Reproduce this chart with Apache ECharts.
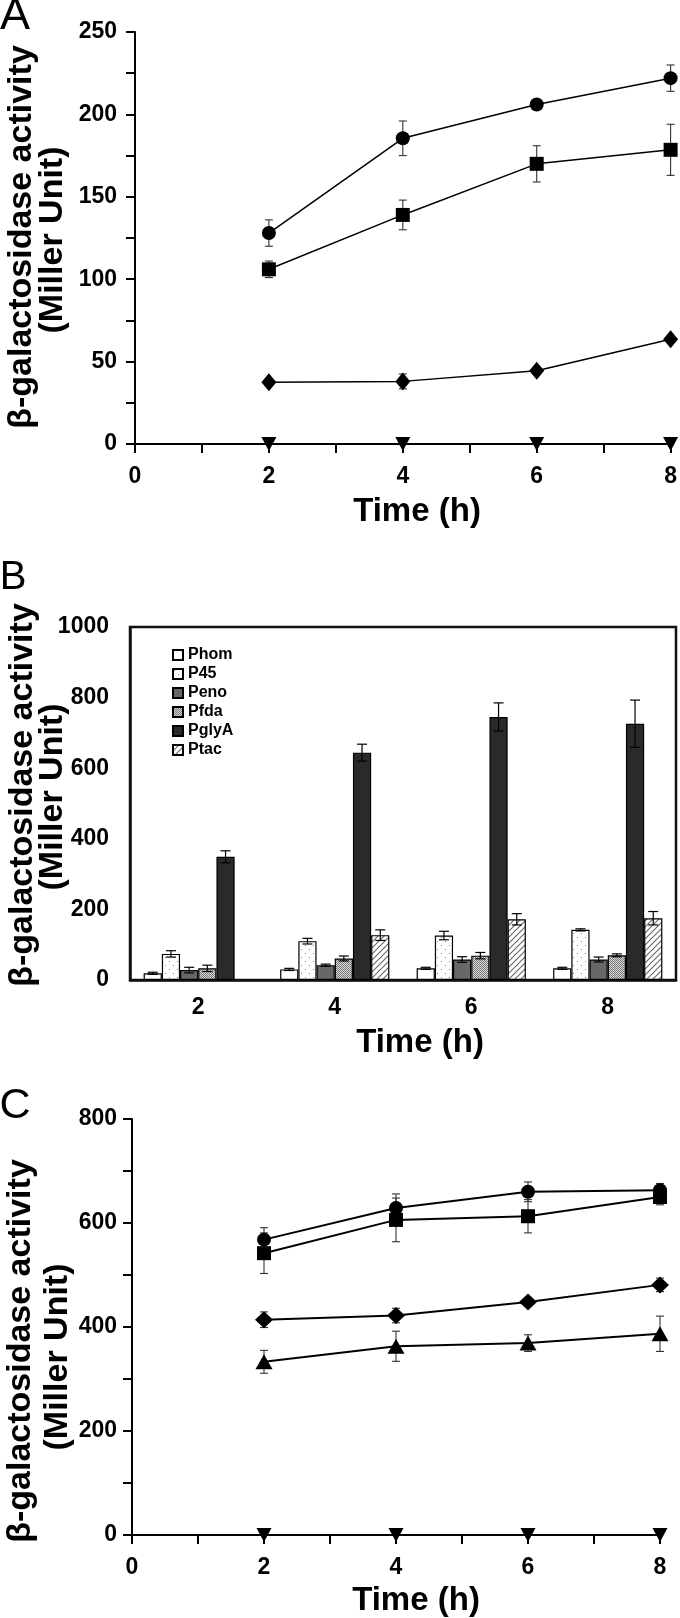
<!DOCTYPE html>
<html>
<head>
<meta charset="utf-8">
<script src="https://cdn.jsdelivr.net/npm/echarts@6/dist/echarts.min.js"></script>
<style>
html,body{margin:0;padding:0;background:#fff;}
#chart{width:680px;height:1618px;}
</style>
</head>
<body>
<div id="chart"></div>
<script>
// ---------- DATA ----------
const hours = [2, 4, 6, 8];
const xTickLabels = [0, 2, 4, 6, 8];

// Panel A
const aYTickLabels = [0, 50, 100, 150, 200, 250];
const aCircle = [128, 185.5, 206, 222];
const aCircleErr = [8, 10.5, 2, 8];
const aSquare = [106, 139, 170, 178.5];
const aSquareErr = [5, 9, 11, 15.5];
const aDiamond = [37.5, 38, 44.5, 63.5];
const aDiamondErr = [2, 4.5, 2, 1.5];
const aTriDown = [0, 0, 0, 0];

// Panel B
const bCategories = ['2', '4', '6', '8'];
const bNames = ['Phom', 'P45', 'Peno', 'Pfda', 'PglyA', 'Ptac'];
const bPhom = [19, 30, 33, 33];
const bPhomErr = [3, 3, 3, 3];
const bP45 = [74, 110, 126, 142];
const bP45Err = [9, 8, 12, 3];
const bPeno = [28, 42, 58, 58];
const bPenoErr = [8, 3, 8, 7];
const bPfda = [33, 61, 69, 70];
const bPfdaErr = [9, 7, 9, 4];
const bPglyA = [349, 644, 745, 726];
const bPglyAErr = [17, 24, 40, 67];
const bPtac = [null, 127, 172, 175];
const bPtacErr = [null, 15, 16, 19];
const bYTickLabels = [0, 200, 400, 600, 800, 1000];

// Panel C
const cYTickLabels = [0, 200, 400, 600, 800];
const cCircle = [568, 629, 660, 663];
const cCircleErr = [23, 27, 19, 13];
const cSquare = [542, 606, 613, 650];
const cSquareErr = [39, 42, 32, 15];
const cDiamond = [414, 422, 448, 481];
const cDiamondErr = [15, 14, 3, 13];
const cTriangle = [333, 363, 369, 387];
const cTriangleErr = [22, 29, 16, 34];
const cTriDown = [0, 0, 0, 0];

// ---------- STYLE HELPERS ----------
const FONT = "'Liberation Sans', Arial, Helvetica, sans-serif";

function pattern(kind) {
  const c = document.createElement('canvas');
  const ctx = c.getContext('2d');
  if (kind === 'dots') {
    c.width = 8; c.height = 8;
    ctx.fillStyle = '#fff'; ctx.fillRect(0, 0, 8, 8);
    ctx.fillStyle = '#888';
    ctx.fillRect(1, 1, 1, 1); ctx.fillRect(5, 5, 1, 1);
  } else if (kind === 'checker') {
    c.width = 2; c.height = 2;
    ctx.fillStyle = '#d6d6d6'; ctx.fillRect(0, 0, 2, 2);
    ctx.fillStyle = '#7a7a7a';
    ctx.fillRect(0, 0, 1, 1); ctx.fillRect(1, 1, 1, 1);
  } else if (kind === 'hatch') {
    c.width = 6; c.height = 6;
    ctx.fillStyle = '#fff'; ctx.fillRect(0, 0, 6, 6);
    ctx.strokeStyle = '#666'; ctx.lineWidth = 1.1;
    ctx.beginPath();
    ctx.moveTo(0, 6); ctx.lineTo(6, 0);
    ctx.moveTo(-1, 1); ctx.lineTo(1, -1);
    ctx.moveTo(5, 7); ctx.lineTo(7, 5);
    ctx.stroke();
  }
  return { image: c, repeat: 'repeat' };
}

const bFills = ['#ffffff', pattern('dots'), '#686868', pattern('checker'), '#2a2a2a', pattern('hatch')];
const bValues = [bPhom, bP45, bPeno, bPfda, bPglyA, bPtac];
const bErrors = [bPhomErr, bP45Err, bPenoErr, bPfdaErr, bPglyAErr, bPtacErr];

function labelStyle(margin, formatterList) {
  return {
    margin: margin, fontSize: 23, fontWeight: 'bold', color: '#000', fontFamily: FONT,
    formatter: function (v) { return formatterList.indexOf(Number(v)) >= 0 ? String(v) : ''; }
  };
}
const axisLineStyle = { show: true, onZero: false, lineStyle: { color: '#000', width: 2 } };
const tickStyle = { show: true, length: 9, lineStyle: { color: '#000', width: 2 } };

function timeAxis(gridIndex, margin) {
  return {
    type: 'value', gridIndex: gridIndex, min: 0, max: 8, interval: 1,
    axisLine: axisLineStyle, axisTick: tickStyle, splitLine: { show: false },
    axisLabel: labelStyle(margin, xTickLabels)
  };
}
function valAxis(gridIndex, max, interval, margin, labels) {
  return {
    type: 'value', gridIndex: gridIndex, min: 0, max: max, interval: interval,
    axisLine: axisLineStyle, axisTick: tickStyle, splitLine: { show: false },
    axisLabel: labelStyle(margin, labels)
  };
}

function lineSeries(axisIdx, values, symbol, size, width, rotate) {
  return {
    type: 'line', xAxisIndex: axisIdx, yAxisIndex: axisIdx, z: 3,
    data: hours.map(function (h, i) { return [h, values[i]]; }),
    symbol: symbol, symbolSize: size, symbolRotate: rotate || 0, showSymbol: true,
    itemStyle: { color: '#000' }, lineStyle: { color: '#000', width: width },
    silent: true
  };
}

function errSeries(axisIdx, values, errs, cap) {
  return {
    type: 'custom', xAxisIndex: axisIdx, yAxisIndex: axisIdx, z: 2, silent: true,
    data: hours.map(function (h, i) { return [h, values[i], errs[i]]; }),
    encode: { x: 0, y: 1 },
    renderItem: function (params, api) {
      const x = api.value(0), v = api.value(1), e = api.value(2);
      const top = api.coord([x, v + e]);
      const bot = api.coord([x, v - e]);
      const st = { stroke: '#333', lineWidth: 1.1 };
      return {
        type: 'group', children: [
          { type: 'line', shape: { x1: top[0], y1: top[1], x2: bot[0], y2: bot[1] }, style: st },
          { type: 'line', shape: { x1: top[0] - cap, y1: top[1], x2: top[0] + cap, y2: top[1] }, style: st },
          { type: 'line', shape: { x1: bot[0] - cap, y1: bot[1], x2: bot[0] + cap, y2: bot[1] }, style: st }
        ]
      };
    }
  };
}

// ---------- BUILD SERIES ----------
const series = [];
// Panel A (axis index 0)
series.push(errSeries(0, aCircle, aCircleErr, 4));
series.push(errSeries(0, aSquare, aSquareErr, 4));
series.push(errSeries(0, aDiamond, aDiamondErr, 4));
series.push(lineSeries(0, aCircle, 'circle', 14, 1.5));
series.push(lineSeries(0, aSquare, 'rect', 14, 1.5));
series.push(lineSeries(0, aDiamond, 'diamond', [15, 18], 1.5));
series.push(lineSeries(0, aTriDown, 'triangle', [15, 14], 1.5, 180));

// Panel B (axis index 1)
bNames.forEach(function (name, s) {
  series.push({
    type: 'bar', name: name, xAxisIndex: 1, yAxisIndex: 1,
    barGap: '0%', barCategoryGap: '20%',
    data: bValues[s].map(function (v) { return v == null ? '-' : v; }),
    itemStyle: { color: bFills[s], borderColor: '#000', borderWidth: 1.2 },
    silent: true
  });
});
const bErrData = [];
bValues.forEach(function (vals, s) {
  vals.forEach(function (v, i) {
    if (v != null && bErrors[s][i] != null) bErrData.push([i, v, bErrors[s][i], s]);
  });
});
series.push({
  type: 'custom', xAxisIndex: 1, yAxisIndex: 1, z: 5, silent: true,
  data: bErrData, encode: { x: 0, y: 1 },
  renderItem: function (params, api) {
    const i = api.value(0), v = api.value(1), e = api.value(2), s = api.value(3);
    const band = api.size([1, 0])[0];
    const bw = band * 0.8 / 6;
    const c = api.coord([i, v]);
    const x = c[0] + (s - 2.5) * bw;
    const yt = api.coord([i, v + e])[1];
    const yb = api.coord([i, v - e])[1];
    const cap = 5;
    const st = { stroke: '#000', lineWidth: 1.2 };
    return {
      type: 'group', children: [
        { type: 'line', shape: { x1: x, y1: yt, x2: x, y2: yb }, style: st },
        { type: 'line', shape: { x1: x - cap, y1: yt, x2: x + cap, y2: yt }, style: st },
        { type: 'line', shape: { x1: x - cap, y1: yb, x2: x + cap, y2: yb }, style: st }
      ]
    };
  }
});

// Panel C (axis index 2)
series.push(errSeries(2, cCircle, cCircleErr, 4));
series.push(errSeries(2, cSquare, cSquareErr, 4));
series.push(errSeries(2, cDiamond, cDiamondErr, 4));
series.push(errSeries(2, cTriangle, cTriangleErr, 4));
series.push(lineSeries(2, cCircle, 'circle', 14, 2));
series.push(lineSeries(2, cSquare, 'rect', 14, 2));
series.push(lineSeries(2, cDiamond, 'diamond', [18, 17], 2));
series.push(lineSeries(2, cTriangle, 'triangle', [17, 15], 2));
series.push(lineSeries(2, cTriDown, 'triangle', [15, 14], 2, 180));

// ---------- TEXT (titles, panel letters) ----------
function txt(text, x, y, size, bold, rot) {
  return {
    type: 'text', x: x, y: y, rotation: rot || 0, silent: true,
    style: {
      text: text, fill: '#000', fontSize: size, fontWeight: bold ? 'bold' : 'normal',
      fontFamily: FONT, textAlign: 'center', textVerticalAlign: 'middle'
    }
  };
}
const R = Math.PI / 2;
const graphics = [
  txt('A', 15, 17, 45, false),
  txt('B', 13, 578, 40, false),
  txt('C', 15, 1106, 43, false),
  txt('β-galactosidase activity', 22, 237, 34, true, R),
  txt('(Miller Unit)', 53, 240, 34, true, R),
  txt('β-galactosidase activity', 23, 795, 34, true, R),
  txt('(Miller Unit)', 53, 797, 34, true, R),
  txt('β-galactosidase activity', 21, 1351, 34, true, R),
  txt('(Miller Unit)', 58, 1357, 34, true, R),
  txt('Time (h)', 417, 512, 33, true),
  txt('Time (h)', 420, 1043, 33, true),
  txt('Time (h)', 416, 1601, 33, true)
];

// ---------- OPTION ----------
const option = {
  animation: false,
  backgroundColor: '#fff',
  grid: [
    { left: 135, top: 32, width: 538, height: 412 },
    { left: 130, top: 627, width: 546, height: 353, show: true, borderColor: '#111', borderWidth: 2.5 },
    { left: 132, top: 1119, width: 528, height: 416 }
  ],
  xAxis: [
    timeAxis(0, 21),
    {
      type: 'category', gridIndex: 1, data: bCategories,
      axisLine: { show: true, lineStyle: { color: '#111', width: 2.5 } },
      axisTick: { show: false },
      axisLabel: { margin: 16, fontSize: 23, fontWeight: 'bold', color: '#000', fontFamily: FONT }
    },
    timeAxis(2, 21)
  ],
  yAxis: [
    valAxis(0, 250, 25, 18, aYTickLabels),
    {
      type: 'value', gridIndex: 1, min: 0, max: 1000, interval: 200,
      axisLine: { show: true, lineStyle: { color: '#111', width: 2.5 } },
      axisTick: { show: false }, splitLine: { show: false },
      axisLabel: labelStyle(21, bYTickLabels)
    },
    valAxis(2, 800, 100, 15, cYTickLabels)
  ],
  legend: {
    data: bNames, orient: 'vertical', left: 167, top: 642,
    itemWidth: 10, itemHeight: 10, itemGap: 3, icon: 'rect',
    textStyle: { fontSize: 16, fontWeight: 'bold', color: '#000', fontFamily: FONT, lineHeight: 13 },
    selectedMode: false
  },
  graphic: graphics,
  series: series
};

const chart = echarts.init(document.getElementById('chart'), null, { renderer: 'canvas' });
chart.setOption(option);
</script>
</body>
</html>
